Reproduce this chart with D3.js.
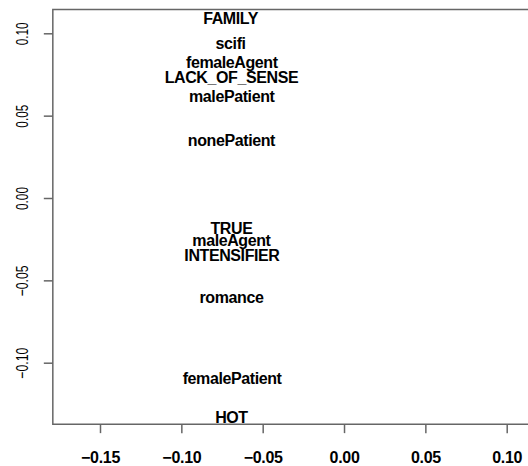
<!DOCTYPE html>
<html>
<head>
<meta charset="utf-8">
<script src="https://cdn.jsdelivr.net/npm/d3@7"></script>
<style>
  body { margin: 0; background: #fff; }
  svg { display: block; }
  .lab { font-family: "Liberation Sans", Arial, sans-serif; font-weight: bold; font-size: 16px; }
</style>
</head>
<body>
<svg id="chart" width="528" height="466"></svg>
<script>
var width = 528,
  height = 466;

// words and their coordinates
var words = ["FAMILY", "scifi", "femaleAgent", "LACK_OF_SENSE", "malePatient", "nonePatient",
  "TRUE", "maleAgent", "INTENSIFIER", "romance", "femalePatient", "HOT"];
var xVals = [-0.0697, -0.0697, -0.0690, -0.0692, -0.0690, -0.0692,
  -0.0692, -0.0692, -0.0689, -0.0692, -0.0688, -0.0692];
var yVals = [0.1090, 0.0938, 0.0820, 0.0731, 0.0614, 0.0351,
  -0.0186, -0.0257, -0.0348, -0.0605, -0.1097, -0.1330];

var xTicks = [-0.15, -0.10, -0.05, 0.00, 0.05, 0.10];
var yTicks = [-0.10, -0.05, 0.00, 0.05, 0.10];
var xLim = [-0.179, 0.13];
var yLim = [-0.1373, 0.1145];

var x = d3.scaleLinear().domain([-0.15, 0.10]).range([100, 506.7]);
var y = d3.scaleLinear().domain([-0.10, 0.10]).range([362.7, 33.3]);

var svg = d3.select("#chart");

// box (right side runs off the canvas)
svg.append("path")
  .attr("d", "M" + x(xLim[1]) + "," + y(yLim[1]) + "H" + x(xLim[0]) + "V" + y(yLim[0]) + "H" + x(xLim[1]))
  .attr("fill", "none")
  .attr("stroke", "#666")
  .attr("stroke-width", 1.5);

// x axis
var xAxis = svg.append("g")
  .attr("transform", "translate(0," + y(yLim[0]) + ")")
  .call(d3.axisBottom(x).tickValues(xTicks).tickSize(9).tickPadding(19).tickFormat(d3.format(".2f")));
xAxis.select(".domain").remove();
xAxis.selectAll("line").attr("stroke", "#666").attr("stroke-width", 1.5);
xAxis.selectAll("text")
  .attr("fill", "#000")
  .attr("letter-spacing", -0.3)
  .style("font-family", '"Liberation Sans", Arial, sans-serif')
  .style("font-weight", "bold")
  .style("font-size", "16px");

// y axis
var yAxis = svg.append("g")
  .attr("transform", "translate(" + x(xLim[0]) + ",0)")
  .call(d3.axisLeft(y).tickValues(yTicks).tickSize(9).tickFormat(d3.format(".2f")));
yAxis.select(".domain").remove();
yAxis.selectAll("line").attr("stroke", "#666").attr("stroke-width", 1.5);
yAxis.selectAll("text")
  .attr("x", null).attr("dy", null)
  .attr("transform", "translate(-30,0) rotate(-90)")
  .attr("text-anchor", "middle")
  .attr("dominant-baseline", "central")
  .attr("fill", "#000")
  .attr("textLength", function (d) { return d < 0 ? 31 : 23; })
  .attr("lengthAdjust", "spacingAndGlyphs")
  .style("font-family", '"Liberation Sans", Arial, sans-serif')
  .style("font-size", "17px");

// word labels
svg.selectAll(".lab")
  .data(words)
  .enter().append("text")
  .attr("class", "lab")
  .attr("x", function (d, i) { return x(xVals[i]); })
  .attr("y", function (d, i) { return y(yVals[i]); })
  .attr("text-anchor", "middle")
  .attr("dominant-baseline", "central")
  .attr("letter-spacing", -0.4)
  .text(function (d) { return d; });
</script>
</body>
</html>
